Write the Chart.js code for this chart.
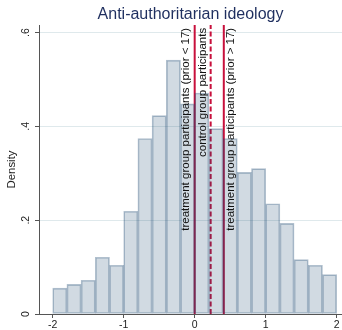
<!DOCTYPE html>
<html><head><meta charset="utf-8">
<script src="https://cdn.jsdelivr.net/npm/chart.js@4.4.1/dist/chart.umd.min.js"></script>
<style>html,body{margin:0;padding:0;background:#fff;}canvas{display:block}</style>
</head><body>
<canvas id="c" width="342" height="330"></canvas>
<script>
const chartTitle = 'Anti-authoritarian ideology';
const yAxisTitle = 'Density';
const binCenters = [-1.9,-1.7,-1.5,-1.3,-1.1,-0.9,-0.7,-0.5,-0.3,-0.1,0.1,0.3,0.5,0.7,0.9,1.1,1.3,1.5,1.7,1.9];
const densities = [0.055,0.063,0.072,0.121,0.104,0.219,0.374,0.423,0.541,0.448,0.471,0.395,0.374,0.302,0.310,0.235,0.193,0.116,0.104,0.084];
const xTickValues = [-2,-1,0,1,2];
const xTickLabels = ['-2','-1','0','1','2'];
const yTickValues = [0,0.2,0.4,0.6];
const yTickLabels = ['0','.2','.4','.6'];
const refLineValues = [0, 0.225, 0.41];
const refLineLabels = ['treatment group participants (prior < 17)','control group participants','treatment group participants (prior > 17)'];
const refLineDashed = [false, true, false];

const X_MIN = -2.193, X_MAX = 2.075, Y_MIN = 0, Y_MAX = 0.616;
const FONT = '"Liberation Sans", Arial, Helvetica, sans-serif';
const LINE_RED = '#c8103c';
const labelOffsets = [-9, -8, 7];

const textPlugin = {
  id: 'texts',
  afterDatasetsDraw(chart) {
    const ctx = chart.ctx, xs = chart.scales.x, ys = chart.scales.y;
    ctx.save();
    ctx.fillStyle = '#111';
    ctx.font = '11.5px ' + FONT;
    ctx.textAlign = 'right';
    ctx.textBaseline = 'middle';
    refLineLabels.forEach((t, i) => {
      const px = xs.getPixelForValue(refLineValues[i]) + labelOffsets[i];
      const py = ys.getPixelForValue(0.61);
      ctx.save();
      ctx.translate(px, py);
      ctx.rotate(-Math.PI / 2);
      ctx.fillText(t, 0, 0);
      ctx.restore();
    });
    ctx.restore();
  },
  afterDraw(chart) {
    const ctx = chart.ctx, ys = chart.scales.y, ca = chart.chartArea;
    ctx.save();
    ctx.fillStyle = '#222';
    ctx.font = '10.5px ' + FONT;
    ctx.textAlign = 'center';
    ctx.textBaseline = 'middle';
    yTickValues.forEach((v, i) => {
      const py = ys.getPixelForValue(v);
      ctx.save();
      ctx.translate(26, py);
      ctx.rotate(-Math.PI / 2);
      ctx.fillText(yTickLabels[i], 0, 0);
      ctx.restore();
    });
    ctx.font = '11.4px ' + FONT;
    ctx.save();
    ctx.translate(11.5, (ca.top + ca.bottom) / 2);
    ctx.rotate(-Math.PI / 2);
    ctx.fillText(yAxisTitle, 0, 0);
    ctx.restore();
    ctx.fillStyle = '#1f2f5f';
    ctx.font = '16px ' + FONT;
    ctx.fillText(chartTitle, (ca.left + ca.right) / 2, 14.5);
    ctx.restore();
  }
};

const datasets = [{
  type: 'bar',
  data: binCenters.map((x, i) => ({ x: x, y: densities[i] })),
  backgroundColor: 'rgba(26,71,111,0.2)',
  borderColor: 'rgba(26,71,111,0.34)',
  borderWidth: 1,
  borderSkipped: false,
  barPercentage: 1,
  categoryPercentage: 1,
  order: 1
}];
refLineValues.forEach((v, i) => {
  datasets.push({
    type: 'line',
    data: [{ x: v, y: Y_MIN }, { x: v, y: Y_MAX }],
    borderColor: LINE_RED,
    borderWidth: 2,
    borderDash: refLineDashed[i] ? [5, 2.5] : [],
    pointRadius: 0,
    fill: false,
    order: 2
  });
});

new Chart(document.getElementById('c').getContext('2d'), {
  type: 'bar',
  data: { datasets: datasets },
  options: {
    responsive: false,
    animation: false,
    devicePixelRatio: 1,
    layout: { padding: { top: 25, left: 0, right: 0, bottom: 0 } },
    plugins: { legend: { display: false }, tooltip: { enabled: false }, title: { display: false } },
    scales: {
      x: {
        type: 'linear', min: X_MIN, max: X_MAX, offset: false,
        grid: { offset: false, drawOnChartArea: false, drawTicks: true, tickLength: 4, tickColor: '#555', color: '#555' },
        border: { color: '#555', width: 1 },
        ticks: { font: { family: FONT, size: 10.5 }, color: '#222', padding: 1, maxRotation: 0, autoSkip: false,
          callback: (v, i) => xTickLabels[i] },
        afterBuildTicks: s => { s.ticks = xTickValues.map(v => ({ value: v })); },
        afterFit: s => { s.height = 16; }
      },
      y: {
        type: 'linear', min: Y_MIN, max: Y_MAX,
        grid: { drawTicks: true, tickLength: 4, tickColor: '#555',
          color: c => (c.tick && c.tick.value > 0) ? '#dfe9ec' : 'rgba(0,0,0,0)' },
        border: { color: '#555', width: 1 },
        ticks: { display: false },
        afterBuildTicks: s => { s.ticks = yTickValues.map(v => ({ value: v })); },
        afterFit: s => { s.width = 39; }
      }
    }
  },
  plugins: [textPlugin]
});
</script>
</body></html>
